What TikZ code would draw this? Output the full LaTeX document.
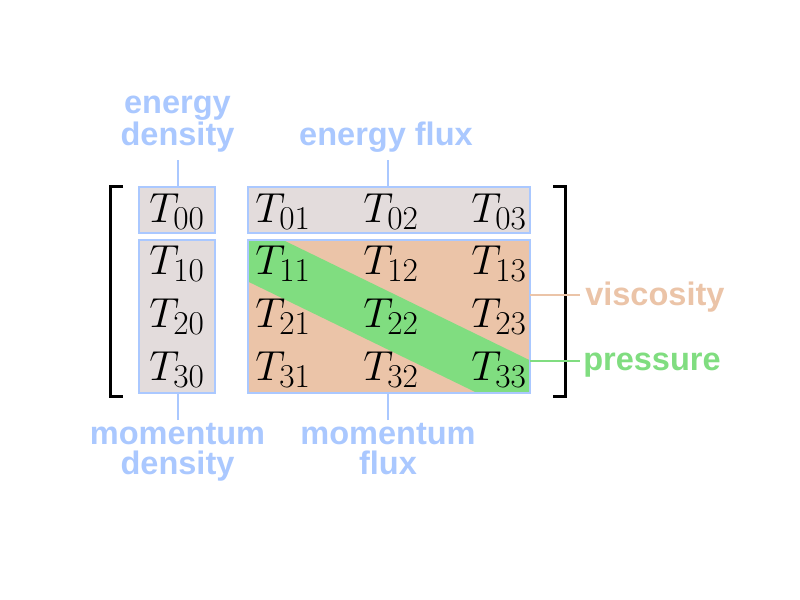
\RequirePackage{fix-cm}
\documentclass[tikz,border=0pt]{standalone}
\usepackage{fontspec}
\setsansfont{Liberation Sans}
\usetikzlibrary{fit}
\DeclareMathSizes{31.5}{31.5}{25}{19}
\definecolor{lblblue}{RGB}{170,200,255}
\definecolor{peach}{RGB}{235,196,168}
\definecolor{grn}{RGB}{128,221,128}
\definecolor{cellgray}{RGB}{227,220,220}
\begin{document}
\begin{tikzpicture}[x=0.75pt,y=-0.75pt,
  entry/.style={anchor=base,inner sep=0pt,font=\fontsize{31.5}{36}\selectfont},
  lbl/.style={inner sep=0pt,align=center,font=\sffamily\bfseries\fontsize{24.4}{22.5}\selectfont},
  tbox/.style={inner sep=0pt},
  boxline/.style={draw=lblblue,line width=1.5pt},
  conn/.style={line width=1.5pt}]
\useasboundingbox (0,0) rectangle (800,600);

\node[tbox,fill=cellgray,fit={(139,187.3) (215,232.3)}] (b00) {};
\node[tbox,fill=cellgray,fit={(248.3,187.3) (529.3,232.3)}] (efbox) {};
\node[tbox,fill=cellgray,fit={(139,240) (215,392.7)}] (mdbox) {};
\node[tbox,fill=peach,fit={(248.3,240) (529.3,392.7)}] (mfbox) {};
\fill[grn] (248.3,240) -- (283,240) -- (529.3,360) -- (529.3,392.7) -- (476.7,392.7) -- (248.3,281.7) -- cycle;
\foreach \b in {b00,efbox,mdbox,mfbox}
  \draw[boxline] (\b.north west) rectangle (\b.south east);

\draw[line width=2.25pt] (123,186) -- (110.7,186) -- (110.7,396) -- (123,396);
\draw[line width=2.25pt] (553,186) -- (565,186) -- (565,396) -- (553,396);

\foreach \r/\y in {0/222,1/274.5,2/327.5,3/380.5}
  \foreach \c/\x in {0/177,1/283,2/391,3/499}
    \node[entry] (t\r\c) at (\x,\y) {$T_{\r\c}$};

\node[lbl,text=lblblue,anchor=base] (edlab) at (177.5,145) {energy\\density};
\node[lbl,text=lblblue,anchor=base] (eflab) at (386,145) {energy flux};
\node[lbl,text=lblblue,anchor=base] (mdlab) at (177.5,474) {momentum\\density};
\node[lbl,text=lblblue,anchor=base] (mflab) at (388,474) {momentum\\flux};
\node[lbl,text=peach,anchor=base west] (vislab) at (585,305) {viscosity};
\node[lbl,text=grn,anchor=base west] (prlab) at (583,370) {pressure};

\coordinate (edtick) at (177.7,160);
\coordinate (eftick) at (388.3,160);
\coordinate (mdtick) at (177.7,420);
\coordinate (mftick) at (388.3,420);
\coordinate (visend) at (580,295);
\coordinate (prend) at (580,360.7);
\draw[conn,lblblue] (edtick) -- (edtick |- b00.north);
\draw[conn,lblblue] (eftick) -- (eftick |- efbox.north);
\draw[conn,lblblue] (mdtick) -- (mdtick |- mdbox.south);
\draw[conn,lblblue] (mftick) -- (mftick |- mfbox.south);
\draw[conn,peach] (visend -| mfbox.east) -- (visend);
\draw[conn,grn] (prend -| mfbox.east) -- (prend);
\end{tikzpicture}
\end{document}
